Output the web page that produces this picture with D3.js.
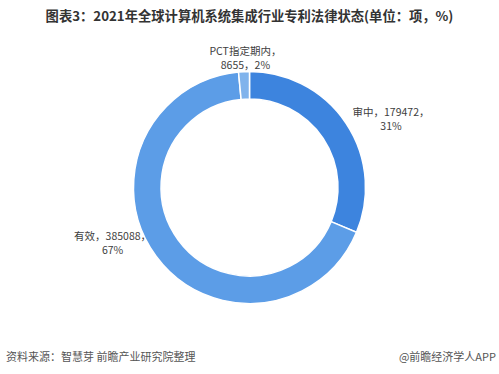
<!DOCTYPE html>
<html>
<head>
<meta charset="utf-8">
<script src="https://cdn.jsdelivr.net/npm/d3@7"></script>
<style>
  body { margin: 0; background: #fff; }
  svg { display: block; font-family: "Noto Sans CJK SC", "Noto Sans", sans-serif; }
</style>
</head>
<body>
<div class="chart"></div>
<script>
// chart data
var categories = ["审中", "有效", "PCT指定期内"];
var values = [179472, 385088, 8655];
var percents = ["31%", "67%", "2%"];
var colors = ["#3d84de", "#5c9de7", "#80b3ec"];

var svgWidth = 499;
var svgHeight = 374;

var cx = 249.5, cy = 187.5;
var outerR = 116, innerR = 88.5;

var svg = d3.select(".chart")
    .append("svg")
    .attr("width", svgWidth)
    .attr("height", svgHeight);

// title
svg.append("text")
    .attr("x", svgWidth / 2)
    .attr("y", 21)
    .attr("text-anchor", "middle")
    .style("font-size", "13.3px")
    .style("font-weight", "bold")
    .style("fill", "#333")
    .text("图表3：2021年全球计算机系统集成行业专利法律状态(单位：项，%)");

var data = categories.map(function(c, i) {
    return {name: c, value: values[i], pct: percents[i], color: colors[i]};
});

var pie = d3.pie()
    .sort(null)
    .value(d => d.value);

var arc = d3.arc()
    .innerRadius(innerR)
    .outerRadius(outerR);

var chartGroup = svg.append("g")
    .attr("transform", `translate(${cx}, ${cy})`);

var arcs = pie(data);

chartGroup.selectAll("path")
    .data(arcs)
    .enter()
    .append("path")
    .attr("d", arc)
    .attr("fill", d => d.data.color)
    .attr("stroke", "#fff")
    .attr("stroke-width", 1.5);

// labels sit on an ellipse around the ring, pushed clear of the ring
var rx = 170, ry = 108, minDist = 121;
var labels = chartGroup.append("g")
    .selectAll("text")
    .data(arcs)
    .enter()
    .append("text")
    .attr("text-anchor", "middle")
    .style("font-size", "10.5px")
    .style("fill", "#404040")
    .attr("transform", function(d) {
        var a = (d.startAngle + d.endAngle) / 2;
        var x = Math.sin(a) * rx;
        var y = -Math.cos(a) * ry;
        if (Math.sqrt(x * x + y * y) < minDist) {
            y = (y < 0 ? -1 : 1) * Math.sqrt(minDist * minDist - x * x);
            x += 4;
        }
        return `translate(${x}, ${y})`;
    });

labels.append("tspan")
    .attr("x", 0)
    .attr("dy", "-1.1em")
    .text(d => d.data.name + "，" + (d.data.name === "PCT指定期内" ? "" : d.data.value + "，"));

labels.append("tspan")
    .attr("x", 0)
    .attr("dy", "1.35em")
    .text(d => d.data.name === "PCT指定期内" ? d.data.value + "，" + d.data.pct : d.data.pct);

// footer
svg.append("text")
    .attr("x", 6)
    .attr("y", 361)
    .style("font-size", "11px")
    .style("fill", "#555")
    .text("资料来源：智慧芽 前瞻产业研究院整理");

svg.append("text")
    .attr("x", 496)
    .attr("y", 361)
    .attr("text-anchor", "end")
    .style("font-size", "11px")
    .style("fill", "#555")
    .text("@前瞻经济学人APP");
</script>
</body>
</html>
